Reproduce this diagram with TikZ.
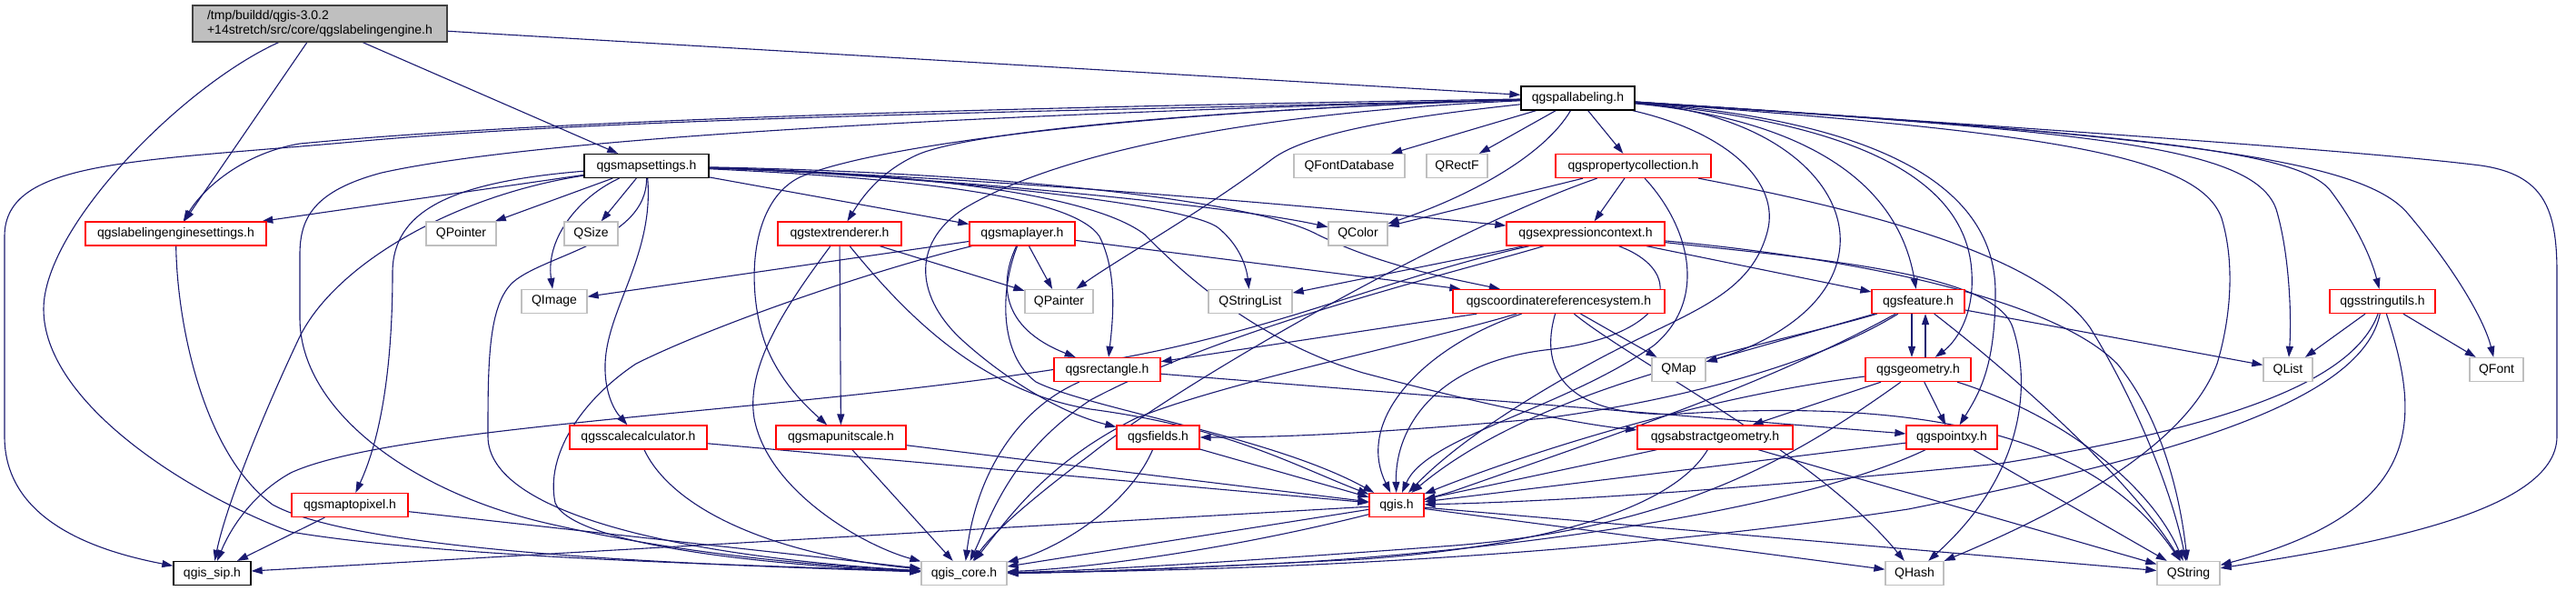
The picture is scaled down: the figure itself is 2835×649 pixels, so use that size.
\documentclass[tikz,border=0pt]{standalone}
\usepackage{fontspec}
\setmainfont{Liberation Sans}
\usetikzlibrary{arrows.meta,backgrounds}
\definecolor{edgeblue}{HTML}{191970}
\definecolor{extgray}{HTML}{BFBFBF}
\definecolor{rootfill}{HTML}{BFBFBF}
\definecolor{rootborder}{HTML}{404040}
\definecolor{incomplete}{HTML}{FF0000}
\tikzset{
  dep/.style={-{Triangle[length=12pt,width=8pt]},draw=edgeblue,line width=1.1pt},
  filebox/.style={rectangle,minimum height=26pt,inner sep=0pt,line width=1.3pt,fill=white,font=\fontsize{14pt}{16pt}\selectfont},
  rootnode/.style={filebox,draw=rootborder,fill=rootfill,minimum height=40pt,align=left},
  docnode/.style={filebox,draw=black},
  rednode/.style={filebox,draw=incomplete},
  extnode/.style={filebox,draw=extgray}
}

\begin{document}
\begin{tikzpicture}[x=1pt,y=-1pt]
  \useasboundingbox (0,0) rectangle (2835,649);

  % rank 0 and 1
  \node[rootnode,minimum width=280pt] (root) at (352,26)
    {/tmp/buildd/qgis-3.0.2\\+14stretch/src/core/qgslabelingengine.h};
  \node[docnode,minimum width=125pt] (pal) at (1736.5,108) {qgspallabeling.h};

  % rank 2
  \node[docnode,minimum width=137pt] (ms) at (711.5,182.5) {qgsmapsettings.h};
  \node[extnode,minimum width=122pt] (qfontdb) at (1485,182.5) {QFontDatabase};
  \node[extnode,minimum width=67pt] (qrectf) at (1603.5,182.5) {QRectF};
  \node[rednode,minimum width=171pt] (pc) at (1797.5,182.5) {qgspropertycollection.h};

  % rank 3
  \node[rednode,minimum width=199pt] (les) at (193.5,257) {qgslabelingenginesettings.h};
  \node[extnode,minimum width=77pt] (qpointer) at (507.5,257) {QPointer};
  \node[extnode,minimum width=59pt] (qsize) at (650.5,257) {QSize};
  \node[rednode,minimum width=136pt] (tr) at (924,257) {qgstextrenderer.h};
  \node[rednode,minimum width=116pt] (ml) at (1125,257) {qgsmaplayer.h};
  \node[extnode,minimum width=65pt] (qcolor) at (1494.5,257) {QColor};
  \node[rednode,minimum width=174pt] (ec) at (1745,257) {qgsexpressioncontext.h};

  % rank 4
  \node[extnode,minimum width=72pt] (qimage) at (610,331.5) {QImage};
  \node[extnode,minimum width=75pt] (qpainter) at (1165.5,331.5) {QPainter};
  \node[extnode,minimum width=92pt] (qstringlist) at (1376,331.5) {QStringList};
  \node[rednode,minimum width=233pt] (crs) at (1715.5,331.5) {qgscoordinatereferencesystem.h};
  \node[rednode,minimum width=102pt] (feat) at (2111,331.5) {qgsfeature.h};
  \node[rednode,minimum width=116pt] (su) at (2622,331.5) {qgsstringutils.h};

  % rank 5
  \node[rednode,minimum width=117pt] (rect) at (1218.5,406.5) {qgsrectangle.h};
  \node[extnode,minimum width=59pt] (qmap) at (1847.5,406.5) {QMap};
  \node[rednode,minimum width=116pt] (geom) at (2111,406.5) {qgsgeometry.h};
  \node[extnode,minimum width=54pt] (qlist) at (2518,406.5) {QList};
  \node[extnode,minimum width=59pt] (qfont) at (2747.5,406.5) {QFont};

  % rank 6
  \node[rednode,minimum width=151pt] (sc) at (702.5,481) {qgsscalecalculator.h};
  \node[rednode,minimum width=143pt] (mus) at (925.5,481) {qgsmapunitscale.h};
  \node[rednode,minimum width=91pt] (fields) at (1274.5,481) {qgsfields.h};
  \node[rednode,minimum width=171pt] (ag) at (1887.5,481) {qgsabstractgeometry.h};
  \node[rednode,minimum width=100pt] (pxy) at (2148,481) {qgspointxy.h};

  % rank 7 and 8
  \node[rednode,minimum width=128pt] (m2p) at (385,555.5) {qgsmaptopixel.h};
  \node[rednode,minimum width=60pt] (qgis) at (1537,555.5) {qgis.h};
  \node[docnode,minimum width=85pt] (sip) at (233.5,630.5) {qgis\_sip.h};
  \node[extnode,minimum width=94pt] (core) at (1061,630.5) {qgis\_core.h};
  \node[extnode,minimum width=64pt] (qhash) at (2107,630.5) {QHash};
  \node[extnode,minimum width=69pt] (qstring) at (2408.5,630.5) {QString};

  \begin{scope}[on background layer]
  \fill[white] (0,0) rectangle (2835,649);
  % qgslabelingengine.h
  \draw[dep] (root) -- (pal);
  \draw[dep] (root) -- (ms);
  \draw[dep] (root) -- (les);
  \draw[dep] (root) .. controls (200,95) and (48,250) .. (48,340) .. controls (48,440) and (200,540) .. (320,585) .. controls (500,615) and (850,622) .. (core);

  % qgspallabeling.h
  \draw[dep] (pal) .. controls (1200,122) and (700,128) .. (400,155) .. controls (150,178) and (5,175) .. (5,260) -- (5,480) .. controls (5,570) and (100,605) .. (sip);
  \draw[dep] (pal) .. controls (1100,118) and (600,132) .. (330,158) .. controls (270,168) and (225,205) .. (les);
  \draw[dep] (pal) .. controls (1100,125) and (600,150) .. (420,190) .. controls (345,210) and (330,240) .. (330,280) -- (330,350) .. controls (330,450) and (450,540) .. (600,575) .. controls (750,610) and (900,622) .. (core);
  \draw[dep] (pal) .. controls (1400,118) and (1080,140) .. (1010,170) .. controls (970,188) and (950,215) .. (tr);
  \draw[dep] (pal) .. controls (1250,122) and (960,160) .. (880,195) .. controls (820,225) and (822,330) .. (845,385) .. controls (860,420) and (885,445) .. (mus);
  \draw[dep] (pal) .. controls (1350,125) and (1150,175) .. (1060,230) .. controls (1000,270) and (1010,330) .. (1060,375) .. controls (1110,420) and (1170,455) .. (fields);
  \draw[dep] (pal) -- (qfontdb);
  \draw[dep] (pal) -- (qrectf);
  \draw[dep] (pal) -- (pc);
  \draw[dep] (pal) .. controls (1700,170) and (1620,215) .. (qcolor);
  \draw[dep] (pal) .. controls (1550,128) and (1440,145) .. (1400,175) .. controls (1320,235) and (1230,285) .. (qpainter);
  \draw[dep] (pal) .. controls (1900,145) and (1960,200) .. (1945,255) .. controls (1925,330) and (1850,345) .. (1750,400) .. controls (1650,455) and (1590,500) .. (qgis);
  \draw[dep] (pal) .. controls (1950,125) and (2030,200) .. (2025,270) .. controls (2020,340) and (1940,380) .. (qmap);
  \draw[dep] (pal) .. controls (1950,128) and (2085,180) .. (feat);
  \draw[dep] (pal) .. controls (2050,135) and (2165,200) .. (2170,300) .. controls (2173,350) and (2150,378) .. (geom);
  \draw[dep] (pal) .. controls (2100,135) and (2195,220) .. (2196,320) .. controls (2196,400) and (2180,430) .. (pxy);
  \draw[dep] (pal) .. controls (2250,145) and (2420,170) .. (2445,240) .. controls (2460,290) and (2455,350) .. (2440,400) .. controls (2410,480) and (2300,550) .. (qhash);
  \draw[dep] (pal) .. controls (2300,145) and (2480,160) .. (2505,230) .. controls (2520,280) and (2522,350) .. (qlist);
  \draw[dep] (pal) .. controls (2350,148) and (2530,165) .. (2565,210) .. controls (2595,250) and (2610,285) .. (su);
  \draw[dep] (pal) .. controls (2400,150) and (2600,175) .. (2650,235) .. controls (2705,300) and (2735,355) .. (qfont);
  \draw[dep] (pal) .. controls (2300,145) and (2620,168) .. (2730,182) .. controls (2800,192) and (2814,230) .. (2814,300) -- (2814,480) .. controls (2814,565) and (2600,600) .. (qstring);

  % qgsmapsettings.h
  \draw[dep] (ms) -- (les);
  \draw[dep] (ms) -- (qpointer);
  \draw[dep] (ms) -- (qsize);
  \draw[dep] (ms) .. controls (640,215) and (600,260) .. (qimage);
  \draw[dep] (ms) .. controls (500,215) and (370,290) .. (330,370) .. controls (285,465) and (248,560) .. (sip);
  \draw[dep] (ms) .. controls (500,200) and (432,230) .. (432,300) .. controls (432,400) and (420,480) .. (m2p);
  \draw[dep] (ms) .. controls (712,265) and (600,280) .. (565,310) .. controls (537,335) and (537,400) .. (537,480) .. controls (537,565) and (750,612) .. (core);
  \draw[dep] (ms) .. controls (720,280) and (668,340) .. (666,400) .. controls (665,430) and (675,450) .. (sc);
  \draw[dep] (ms) -- (ml);
  \draw[dep] (ms) .. controls (1000,192) and (1350,225) .. (qcolor);
  \draw[dep] (ms) .. controls (1100,195) and (1500,232) .. (ec);
  \draw[dep] (ms) .. controls (1100,190) and (1380,220) .. (1450,258) .. controls (1520,292) and (1590,305) .. (crs);
  \draw[dep] (ms) .. controls (1000,192) and (1300,222) .. (1340,250) .. controls (1365,270) and (1372,295) .. (qstringlist);
  \draw[dep] (ms) .. controls (1000,196) and (1180,215) .. (1210,260) .. controls (1230,300) and (1225,350) .. (rect);
  \draw[dep] (ms) .. controls (1000,190) and (1200,212) .. (1260,258) .. controls (1320,320) and (1400,380) .. (1500,410) .. controls (1650,450) and (1750,468) .. (ag);

  % qgsmaplayer.h
  \draw[dep] (ml) -- (qimage);
  \draw[dep] (ml) -- (qpainter);
  \draw[dep] (ml) .. controls (1100,310) and (1100,360) .. (rect);
  \draw[dep] (ml) -- (crs);
  \draw[dep] (ml) .. controls (950,300) and (780,360) .. (700,400) .. controls (640,440) and (600,500) .. (611,553) .. controls (630,600) and (850,622) .. (core);
  \draw[dep] (ml) .. controls (1100,320) and (1100,390) .. (1140,420) .. controls (1200,450) and (1400,480) .. (qgis);

  % qgstextrenderer.h
  \draw[dep] (tr) -- (qpainter);
  \draw[dep] (tr) -- (mus);
  \draw[dep] (tr) .. controls (870,330) and (820,400) .. (830,460) .. controls (845,540) and (950,600) .. (core);
  \draw[dep] (tr) .. controls (1000,350) and (1080,430) .. (1200,450) .. controls (1350,470) and (1420,510) .. (qgis);

  % lower left
  \draw[dep] (les) .. controls (195,360) and (225,500) .. (300,555) .. controls (400,610) and (800,622) .. (core);
  \draw[dep] (sc) .. controls (740,560) and (850,610) .. (core);
  \draw[dep] (sc) -- (qgis);
  \draw[dep] (m2p) -- (sip);
  \draw[dep] (m2p) -- (core);
  \draw[dep] (mus) -- (core);
  \draw[dep] (mus) -- (qgis);
  \draw[dep] (fields) .. controls (1240,560) and (1160,605) .. (core);
  \draw[dep] (fields) -- (qgis);
  \draw[dep] (rect) -- (pxy);
  \draw[dep] (rect) .. controls (1120,450) and (1075,520) .. (core);

  % qgscoordinatereferencesystem.h
  \draw[dep] (crs) -- (qmap);
  \draw[dep] (crs) -- (rect);
  \draw[dep] (crs) .. controls (1570,380) and (1490,460) .. (qgis);
  \draw[dep] (crs) .. controls (1550,380) and (1350,420) .. (1250,460) .. controls (1150,510) and (1110,570) .. (core);
  \draw[dep] (crs) .. controls (1800,400) and (2000,500) .. (qhash);
  \draw[dep] (crs) .. controls (1690,420) and (1740,460) .. (1850,455) .. controls (2100,440) and (2300,470) .. (qstring);

  % qgsexpressioncontext.h
  \draw[dep] (ec) -- (qstringlist);
  \draw[dep] (ec) -- (feat);
  \draw[dep] (ec) .. controls (1860,300) and (1840,370) .. (1700,385) .. controls (1580,400) and (1535,470) .. (qgis);
  \draw[dep] (ec) .. controls (2000,285) and (2195,300) .. (2215,360) .. controls (2235,420) and (2230,520) .. (qhash);
  \draw[dep] (ec) .. controls (2000,280) and (2250,320) .. (2330,400) .. controls (2380,460) and (2400,550) .. (qstring);
  \draw[dep] (ec) .. controls (1550,300) and (1450,345) .. (1300,380) .. controls (1000,450) and (450,460) .. (320,520) .. controls (275,545) and (252,585) .. (sip);
  \draw[dep] (ec) .. controls (1600,300) and (1350,360) .. (1200,440) .. controls (1110,500) and (1090,570) .. (core);

  % qgspropertycollection.h
  \draw[dep] (pc) -- (qcolor);
  \draw[dep] (pc) -- (ec);
  \draw[dep] (pc) .. controls (1600,250) and (1300,420) .. (1200,500) .. controls (1120,560) and (1090,590) .. (core);
  \draw[dep] (pc) .. controls (1860,250) and (1880,330) .. (1820,380) .. controls (1720,450) and (1570,480) .. (qgis);
  \draw[dep] (pc) .. controls (2100,240) and (2250,290) .. (2300,360) .. controls (2350,440) and (2390,540) .. (qstring);

  % qgsfeature.h
  \draw[dep] (feat) -- (qmap);
  \draw[dep] ([xshift=-7pt]feat.south) -- ([xshift=-7pt]geom.north);
  \draw[dep] ([xshift=8pt]geom.north) -- ([xshift=8pt]feat.south);
  \draw[dep] (feat) .. controls (1950,380) and (1700,420) .. (qgis);
  \draw[dep] (feat) .. controls (1950,420) and (1800,470) .. (1600,540) .. controls (1400,600) and (1200,625) .. (core);
  \draw[dep] (feat) -- (qlist);
  \draw[dep] (feat) .. controls (2200,400) and (2340,520) .. (qstring);
  \draw[dep] (feat) .. controls (2000,400) and (1850,440) .. (1700,460) .. controls (1500,478) and (1400,481) .. (fields);

  % qgsgeometry.h
  \draw[dep] (geom) -- (ag);
  \draw[dep] (geom) -- (pxy);
  \draw[dep] (geom) .. controls (1850,440) and (1650,510) .. (qgis);
  \draw[dep] (geom) .. controls (1980,500) and (1850,580) .. (1600,600) .. controls (1400,615) and (1200,628) .. (core);
  \draw[dep] (geom) .. controls (2280,460) and (2370,540) .. (qstring);

  % qgsabstractgeometry.h and qgspointxy.h
  \draw[dep] (ag) -- (qgis);
  \draw[dep] (ag) .. controls (1840,560) and (1700,600) .. (1500,615) .. controls (1300,625) and (1180,630) .. (core);
  \draw[dep] (ag) -- (qstring);
  \draw[dep] (pxy) -- (qgis);
  \draw[dep] (pxy) .. controls (1960,570) and (1600,610) .. (1400,620) .. controls (1250,627) and (1170,630) .. (core);
  \draw[dep] (pxy) -- (qstring);

  % qgis.h
  \draw[dep] (qgis) -- (sip);
  \draw[dep] (qgis) -- (core);
  \draw[dep] (qgis) -- (qhash);
  \draw[dep] (qgis) -- (qstring);

  % qgsstringutils.h
  \draw[dep] (su) -- (qlist);
  \draw[dep] (su) -- (qfont);
  \draw[dep] (su) .. controls (2660,450) and (2680,560) .. (qstring);
  \draw[dep] (su) .. controls (2590,420) and (2450,470) .. (2200,510) .. controls (1900,540) and (1700,552) .. (qgis);
  \draw[dep] (su) .. controls (2600,440) and (2400,500) .. (2100,560) .. controls (1700,620) and (1300,628) .. (core);
  \end{scope}
\end{tikzpicture}
\end{document}
